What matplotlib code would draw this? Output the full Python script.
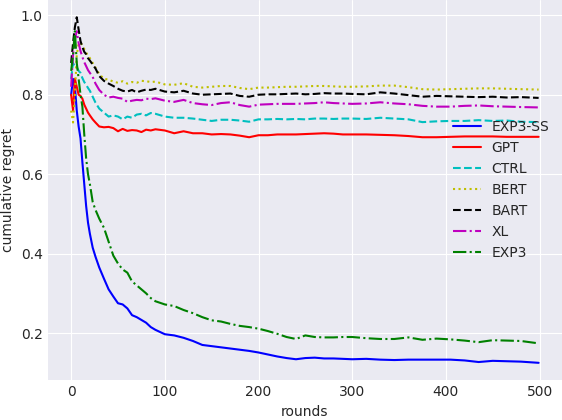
import matplotlib
matplotlib.use("Agg")
import matplotlib.pyplot as plt

plt.style.use("seaborn-v0_8-darkgrid")
plt.rcParams['font.family'] = ['DejaVu Sans']

rounds = [0, 2, 4, 6, 8, 10, 12, 14, 16, 18, 20, 23, 26, 30, 35, 40, 45, 50, 55, 60,
          65, 70, 75, 80, 85, 90, 100, 110, 120, 130, 140, 150, 160, 170, 180, 190, 200, 210, 220, 230,
          240, 250, 260, 270, 280, 290, 300, 315, 330, 345, 360, 375, 390, 405, 420, 435, 450, 465, 480, 499]

exp3_ss = [0.80, 0.84, 0.82, 0.76, 0.72, 0.69, 0.63, 0.575, 0.52, 0.478, 0.45, 0.415, 0.392, 0.365, 0.337, 0.31, 0.292, 0.275, 0.272, 0.262,
           0.245, 0.24, 0.233, 0.226, 0.215, 0.208, 0.197, 0.194, 0.188, 0.18, 0.17, 0.167, 0.164, 0.161, 0.158, 0.155, 0.151, 0.146, 0.141, 0.137,
           0.134, 0.137, 0.138, 0.136, 0.136, 0.135, 0.134, 0.135, 0.133, 0.132, 0.133, 0.133, 0.133, 0.133, 0.131, 0.127, 0.13, 0.129, 0.128, 0.125]
gpt = [0.80, 0.76, 0.84, 0.82, 0.80, 0.797, 0.79, 0.775, 0.765, 0.755, 0.748, 0.738, 0.73, 0.72, 0.718, 0.719, 0.716, 0.708, 0.714, 0.709,
       0.711, 0.71, 0.706, 0.712, 0.71, 0.713, 0.71, 0.703, 0.708, 0.703, 0.703, 0.70, 0.701, 0.70, 0.697, 0.693, 0.698, 0.698, 0.70, 0.70,
       0.70, 0.701, 0.702, 0.703, 0.702, 0.70, 0.70, 0.70, 0.699, 0.698, 0.696, 0.693, 0.693, 0.694, 0.695, 0.695, 0.695, 0.694, 0.694, 0.694]
ctrl = [0.84, 0.88, 0.87, 0.87, 0.86, 0.855, 0.842, 0.832, 0.825, 0.817, 0.81, 0.795, 0.78, 0.765, 0.755, 0.745, 0.748, 0.745, 0.738, 0.745,
        0.742, 0.75, 0.752, 0.748, 0.754, 0.752, 0.745, 0.742, 0.742, 0.74, 0.737, 0.734, 0.737, 0.737, 0.735, 0.732, 0.738, 0.738, 0.739, 0.738,
        0.739, 0.738, 0.74, 0.74, 0.739, 0.74, 0.74, 0.739, 0.742, 0.74, 0.738, 0.731, 0.733, 0.734, 0.734, 0.736, 0.734, 0.735, 0.732, 0.731]
bert = [0.76, 0.73, 0.80, 0.90, 0.93, 0.93, 0.925, 0.915, 0.906, 0.898, 0.892, 0.88, 0.868, 0.852, 0.84, 0.838, 0.833, 0.83, 0.834, 0.828,
        0.832, 0.83, 0.835, 0.834, 0.832, 0.833, 0.826, 0.825, 0.829, 0.82, 0.818, 0.82, 0.822, 0.822, 0.817, 0.814, 0.818, 0.818, 0.819, 0.82,
        0.82, 0.821, 0.822, 0.822, 0.821, 0.82, 0.82, 0.821, 0.823, 0.823, 0.819, 0.814, 0.813, 0.814, 0.815, 0.816, 0.816, 0.815, 0.814, 0.813]
bart = [0.88, 0.93, 0.97, 0.995, 0.964, 0.935, 0.92, 0.908, 0.902, 0.892, 0.886, 0.876, 0.866, 0.847, 0.835, 0.828, 0.822, 0.815, 0.81, 0.808,
        0.812, 0.806, 0.81, 0.813, 0.812, 0.815, 0.808, 0.806, 0.81, 0.803, 0.80, 0.801, 0.802, 0.803, 0.797, 0.795, 0.80, 0.801, 0.801, 0.802,
        0.803, 0.801, 0.802, 0.804, 0.803, 0.803, 0.802, 0.801, 0.806, 0.803, 0.799, 0.795, 0.797, 0.796, 0.795, 0.794, 0.795, 0.793, 0.794, 0.792]
xl = [0.82, 0.90, 0.94, 0.96, 0.93, 0.91, 0.895, 0.882, 0.872, 0.862, 0.855, 0.845, 0.828, 0.812, 0.80, 0.793, 0.795, 0.792, 0.79, 0.782,
      0.785, 0.787, 0.786, 0.79, 0.789, 0.791, 0.785, 0.782, 0.787, 0.779, 0.776, 0.774, 0.779, 0.781, 0.774, 0.77, 0.775, 0.776, 0.777, 0.777,
      0.777, 0.778, 0.779, 0.781, 0.779, 0.778, 0.777, 0.778, 0.781, 0.778, 0.776, 0.772, 0.77, 0.77, 0.772, 0.773, 0.771, 0.77, 0.769, 0.768]
exp3 = [0.86, 0.90, 0.96, 0.88, 0.84, 0.80, 0.77, 0.70, 0.64, 0.60, 0.575, 0.53, 0.51, 0.488, 0.465, 0.43, 0.395, 0.375, 0.36, 0.352,
        0.33, 0.32, 0.31, 0.30, 0.288, 0.28, 0.272, 0.268, 0.258, 0.25, 0.24, 0.232, 0.229, 0.223, 0.218, 0.215, 0.211, 0.205, 0.198, 0.19,
        0.185, 0.194, 0.19, 0.189, 0.189, 0.19, 0.19, 0.187, 0.185, 0.185, 0.189, 0.183, 0.186, 0.184, 0.181, 0.177, 0.182, 0.181, 0.18, 0.174]

fig = plt.figure(figsize=(5.62, 4.2), dpi=100)
ax = fig.add_subplot(1, 1, 1)

ax.plot(rounds, exp3_ss, 'b-', label='EXP3-SS')
ax.plot(rounds, gpt, 'r-', label='GPT')
ax.plot(rounds, ctrl, 'c--', label='CTRL')
ax.plot(rounds, bert, 'y:', label='BERT')
ax.plot(rounds, bart, 'k--', label='BART')
ax.plot(rounds, xl, 'm-.', label='XL')
ax.plot(rounds, exp3, 'g-.', label='EXP3')

ax.set_xlabel('rounds')
ax.set_ylabel('cumulative regret')
ax.set_yticks([0.2, 0.4, 0.6, 0.8, 1.0])
ax.legend(loc='center right', frameon=False)

fig.subplots_adjust(left=0.085, right=1.0, top=1.0, bottom=0.095)
fig.savefig('out.png')
